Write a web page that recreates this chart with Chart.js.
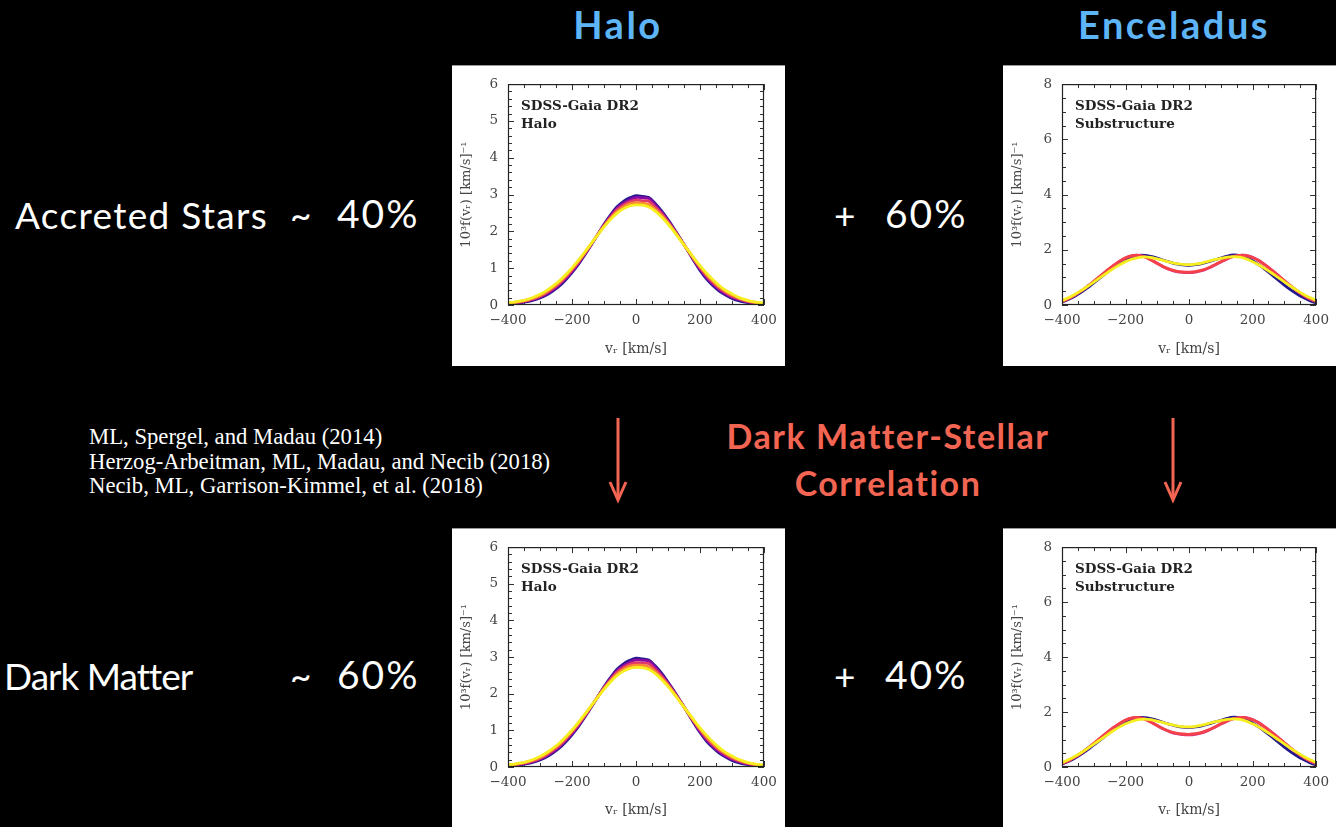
<!DOCTYPE html>
<html>
<head>
<meta charset="utf-8">
<script src="https://cdn.jsdelivr.net/npm/chart.js@4.4.0/dist/chart.umd.min.js"></script>
<style>
  html, body { margin: 0; padding: 0; background: #000; }
  body { width: 1336px; height: 827px; position: relative; overflow: hidden; font-family: Lato, "Open Sans", sans-serif; }
  .txt { position: absolute; white-space: nowrap; line-height: 1; color: #fff; }
  .center { transform: translateX(-50%); }
  .head { color: #5db4f6; font-weight: 700; font-size: 38px; letter-spacing: 2.5px; }
  .big { font-size: 37px; font-weight: 400; }
  .pct { font-size: 39px; letter-spacing: 2px; }
  .corr { color: #f26552; font-size: 34px; font-weight: 700; letter-spacing: 1.5px; }
  .refs { font-family: "Liberation Serif", serif; font-size: 22.7px; }
  .panel { position: absolute; background: #fff; border-top: 1px solid #999; }
  .panel canvas { display: block; }
  svg { position: absolute; left: 0; top: 0; }
</style>
</head>
<body>

<div class="txt head center" style="left:618px; top:5px;">Halo</div>
<div class="txt head center" style="left:1174px; top:5px;">Enceladus</div>

<div class="txt big" style="left:15px; top:196px; letter-spacing:1.3px;">Accreted Stars</div>
<div class="txt big" style="left:290px; top:196px;">~</div>
<div class="txt big pct" style="left:337px; top:194px;">40%</div>
<div class="txt big" style="left:834px; top:196px;">+</div>
<div class="txt big pct" style="left:885px; top:194px;">60%</div>

<div class="txt big" style="left:4px; top:657px; letter-spacing:-1px;">Dark Matter</div>
<div class="txt big" style="left:290px; top:657px;">~</div>
<div class="txt big pct" style="left:337px; top:655px;">60%</div>
<div class="txt big" style="left:834px; top:657px;">+</div>
<div class="txt big pct" style="left:885px; top:655px;">40%</div>

<div class="txt refs" style="left:89px; top:426px;">ML, Spergel, and Madau (2014)</div>
<div class="txt refs" style="left:89px; top:451px;">Herzog-Arbeitman, ML, Madau, and Necib (2018)</div>
<div class="txt refs" style="left:89px; top:475px;">Necib, ML, Garrison-Kimmel, et al. (2018)</div>

<div class="txt corr center" style="left:888px; top:419px;">Dark Matter-Stellar</div>
<div class="txt corr center" style="left:888px; top:466px;">Correlation</div>

<svg width="1336" height="827">
  <g stroke="#f26552" stroke-width="3" fill="none">
    <line x1="618" y1="418" x2="618" y2="497"/>
    <polyline points="610,482 618,500 626,482"/>
    <line x1="1173" y1="418" x2="1173" y2="497"/>
    <polyline points="1165,482 1173,500 1181,482"/>
  </g>
</svg>

<div class="panel" style="left:452px; top:65px; width:333px; height:300px;"><canvas id="haloTop" width="333" height="300"></canvas></div>
<div class="panel" style="left:1003px; top:65px; width:333px; height:300px;"><canvas id="subTop" width="333" height="300"></canvas></div>
<div class="panel" style="left:452px; top:528px; width:333px; height:298px;"><canvas id="haloBottom" width="333" height="298"></canvas></div>
<div class="panel" style="left:1003px; top:528px; width:333px; height:298px;"><canvas id="subBottom" width="333" height="298"></canvas></div>

<script>
// radial velocity grid, km/s
const vr = [-400, -380, -360, -340, -320, -300, -280, -260, -240, -220, -200, -180, -160, -140, -120, -100, -80, -60, -40, -20, 0,
            20, 40, 60, 80, 100, 120, 140, 160, 180, 200, 220, 240, 260, 280, 300, 320, 340, 360, 380, 400];

// halo f(vr), 10^3 [km/s]^-1
const haloNavy = [0.02, 0.04, 0.06, 0.09, 0.13, 0.19, 0.27, 0.38, 0.51, 0.68, 0.88, 1.10, 1.36, 1.63, 1.91, 2.19, 2.44, 2.66, 2.81, 2.91, 2.97,
                  2.95, 2.92, 2.76, 2.56, 2.32, 2.06, 1.78, 1.50, 1.21, 0.94, 0.71, 0.53, 0.38, 0.27, 0.18, 0.12, 0.08, 0.05, 0.03, 0.02];
const haloPurple = [0.03, 0.05, 0.07, 0.11, 0.15, 0.22, 0.30, 0.41, 0.55, 0.72, 0.91, 1.13, 1.38, 1.64, 1.91, 2.17, 2.41, 2.62, 2.76, 2.86, 2.92,
                    2.91, 2.89, 2.72, 2.52, 2.29, 2.04, 1.78, 1.51, 1.23, 0.97, 0.75, 0.57, 0.42, 0.30, 0.21, 0.15, 0.10, 0.06, 0.04, 0.03];
const haloRed = [0.04, 0.06, 0.09, 0.12, 0.17, 0.24, 0.33, 0.45, 0.58, 0.75, 0.95, 1.16, 1.40, 1.65, 1.91, 2.16, 2.38, 2.58, 2.71, 2.80, 2.85,
                 2.83, 2.82, 2.66, 2.48, 2.26, 2.02, 1.77, 1.51, 1.25, 1.01, 0.79, 0.61, 0.46, 0.34, 0.24, 0.17, 0.12, 0.08, 0.05, 0.04];
const haloOrange = [0.05, 0.07, 0.10, 0.14, 0.19, 0.26, 0.36, 0.48, 0.62, 0.79, 0.98, 1.19, 1.42, 1.66, 1.90, 2.14, 2.35, 2.53, 2.66, 2.75, 2.78,
                    2.77, 2.73, 2.60, 2.43, 2.23, 2.00, 1.76, 1.51, 1.27, 1.04, 0.83, 0.65, 0.49, 0.37, 0.27, 0.19, 0.13, 0.09, 0.06, 0.04];
const haloYellow = [0.06, 0.08, 0.11, 0.15, 0.21, 0.29, 0.39, 0.51, 0.65, 0.82, 1.01, 1.22, 1.44, 1.67, 1.90, 2.12, 2.32, 2.49, 2.61, 2.69, 2.72,
                    2.71, 2.66, 2.55, 2.39, 2.20, 1.98, 1.75, 1.52, 1.29, 1.07, 0.87, 0.69, 0.53, 0.40, 0.30, 0.21, 0.15, 0.10, 0.07, 0.05];

// substructure (Enceladus) f(vr)
const subNavy = [0.10, 0.20, 0.32, 0.46, 0.62, 0.80, 0.98, 1.16, 1.34, 1.50, 1.64, 1.74, 1.80, 1.80, 1.76, 1.70, 1.62, 1.55, 1.49, 1.45, 1.44,
                 1.46, 1.50, 1.56, 1.63, 1.70, 1.77, 1.81, 1.79, 1.72, 1.60, 1.45, 1.28, 1.10, 0.91, 0.72, 0.55, 0.40, 0.27, 0.16, 0.08];
const subMagenta = [0.12, 0.22, 0.35, 0.50, 0.67, 0.85, 1.04, 1.23, 1.41, 1.57, 1.70, 1.78, 1.80, 1.75, 1.64, 1.51, 1.38, 1.28, 1.21, 1.18, 1.17,
                    1.19, 1.24, 1.33, 1.44, 1.56, 1.67, 1.76, 1.80, 1.80, 1.73, 1.61, 1.45, 1.27, 1.08, 0.88, 0.69, 0.51, 0.35, 0.22, 0.12];
const subRed = [0.13, 0.23, 0.36, 0.51, 0.68, 0.86, 1.05, 1.24, 1.42, 1.58, 1.71, 1.79, 1.80, 1.74, 1.63, 1.50, 1.38, 1.29, 1.23, 1.20, 1.19,
                1.21, 1.26, 1.34, 1.45, 1.57, 1.68, 1.76, 1.80, 1.79, 1.72, 1.60, 1.44, 1.26, 1.07, 0.88, 0.69, 0.51, 0.36, 0.23, 0.13];
const subYellow = [0.16, 0.26, 0.38, 0.52, 0.67, 0.83, 0.99, 1.15, 1.31, 1.45, 1.57, 1.66, 1.72, 1.74, 1.72, 1.67, 1.61, 1.55, 1.50, 1.47, 1.46,
                   1.48, 1.52, 1.58, 1.64, 1.69, 1.73, 1.75, 1.73, 1.67, 1.57, 1.45, 1.31, 1.16, 1.00, 0.84, 0.68, 0.53, 0.39, 0.27, 0.16];

// first entry is drawn on top by Chart.js
const haloSeries = [
  { values: haloYellow, color: "#f6ee1e" },
  { values: haloOrange, color: "#fb8a30" },
  { values: haloRed, color: "#e03a6a" },
  { values: haloPurple, color: "#8b0aa5" },
  { values: haloNavy, color: "#24198c" },
];
const subSeries = [
  { values: subYellow, color: "#f6ee1e" },
  { values: subRed, color: "#f5424a" },
  { values: subMagenta, color: "#d42f86" },
  { values: subNavy, color: "#24198c" },
];

const serif = "'DejaVu Serif', 'Liberation Serif', serif";
const minusSign = (v) => String(v).replace("-", "\u2212");

// box frame + inward ticks on all four sides, like the paper's figure
const frameTicks = {
  id: "frameTicks",
  beforeDatasetsDraw(chart, args, opts) {
    const { ctx, chartArea: a, scales } = chart;
    ctx.save();
    ctx.strokeStyle = "#333";
    ctx.lineWidth = 1;
    ctx.beginPath();
    for (let v = scales.x.min; v <= scales.x.max; v += opts.xMinor) {
      const len = v % opts.xMajor === 0 ? 6 : 4;
      const px = Math.round(scales.x.getPixelForValue(v)) + 0.5;
      ctx.moveTo(px, a.bottom); ctx.lineTo(px, a.bottom - len);
      ctx.moveTo(px, a.top); ctx.lineTo(px, a.top + len);
    }
    const steps = Math.round((scales.y.max - scales.y.min) / opts.yMinor);
    for (let i = 0; i <= steps; i++) {
      const v = scales.y.min + i * opts.yMinor;
      const major = i % Math.round(opts.yMajor / opts.yMinor) === 0;
      const len = major ? 6 : 4;
      const py = Math.round(scales.y.getPixelForValue(v)) + 0.5;
      ctx.moveTo(a.left, py); ctx.lineTo(a.left + len, py);
      ctx.moveTo(a.right, py); ctx.lineTo(a.right - len, py);
    }
    ctx.stroke();
    ctx.restore();
  },
  afterDatasetsDraw(chart) {
    const { ctx, chartArea: a } = chart;
    ctx.save();
    ctx.strokeStyle = "#222";
    ctx.lineWidth = 1.2;
    ctx.strokeRect(a.left + 0.5, a.top + 0.5, a.right - a.left - 1, a.bottom - a.top - 1);
    ctx.font = "bold 13.5px " + serif;
    ctx.fillStyle = "#222";
    ctx.fillText("SDSS-Gaia DR2", a.left + 13, a.top + 26);
    ctx.fillText(chart.options.plugins.frameTicks.label, a.left + 13, a.top + 44);
    ctx.restore();
  },
};

function makePanel(id, series, yMax, yStep, yMinor, label, padLeft, padRight, xHeight) {
  new Chart(document.getElementById(id), {
    type: "line",
    data: {
      datasets: series.map((s) => ({
        data: vr.map((v, i) => ({ x: v, y: s.values[i] })),
        borderColor: s.color,
        borderWidth: 2.8,
        pointRadius: 0,
        tension: 0.35,
        fill: false,
      })),
    },
    options: {
      responsive: false,
      animation: false,
      events: [],
      layout: { padding: { top: 12, right: padRight, left: 0, bottom: 0 } },
      plugins: {
        legend: { display: false },
        tooltip: { enabled: false },
        frameTicks: { xMajor: 200, xMinor: 50, yMajor: yStep, yMinor: yMinor, label: label },
      },
      scales: {
        x: {
          type: "linear",
          min: -400,
          max: 400,
          afterFit: (s) => { s.height = xHeight; },
          grid: { display: false, drawTicks: false },
          border: { display: false },
          ticks: {
            stepSize: 200, padding: 7, maxRotation: 0, autoSkip: false,
            color: "#444", font: { family: serif, size: 13.5 },
            callback: minusSign,
          },
          title: {
            display: true, text: "v\u1D63 [km/s]", color: "#444",
            font: { family: serif, size: 14 }, padding: { top: 0, bottom: 8 },
          },
        },
        y: {
          min: 0,
          max: yMax,
          afterFit: (s) => { s.width = padLeft; },
          grid: { display: false, drawTicks: false },
          border: { display: false },
          ticks: { stepSize: yStep, padding: 10, color: "#444", font: { family: serif, size: 13.5 } },
          title: {
            display: true, text: "10\u00B3f(v\u1D63) [km/s]\u207B\u00B9", color: "#444",
            font: { family: serif, size: 13 }, padding: { top: 7, bottom: 0 },
          },
        },
      },
    },
    plugins: [frameTicks],
  });
}

makePanel("haloTop", haloSeries, 6, 1, 0.2, "Halo", 56, 21, 61);
makePanel("subTop", subSeries, 8, 2, 0.5, "Substructure", 59, 14, 61);
makePanel("haloBottom", haloSeries, 6, 1, 0.2, "Halo", 56, 21, 60);
makePanel("subBottom", subSeries, 8, 2, 0.5, "Substructure", 59, 14, 60);
</script>
</body>
</html>
